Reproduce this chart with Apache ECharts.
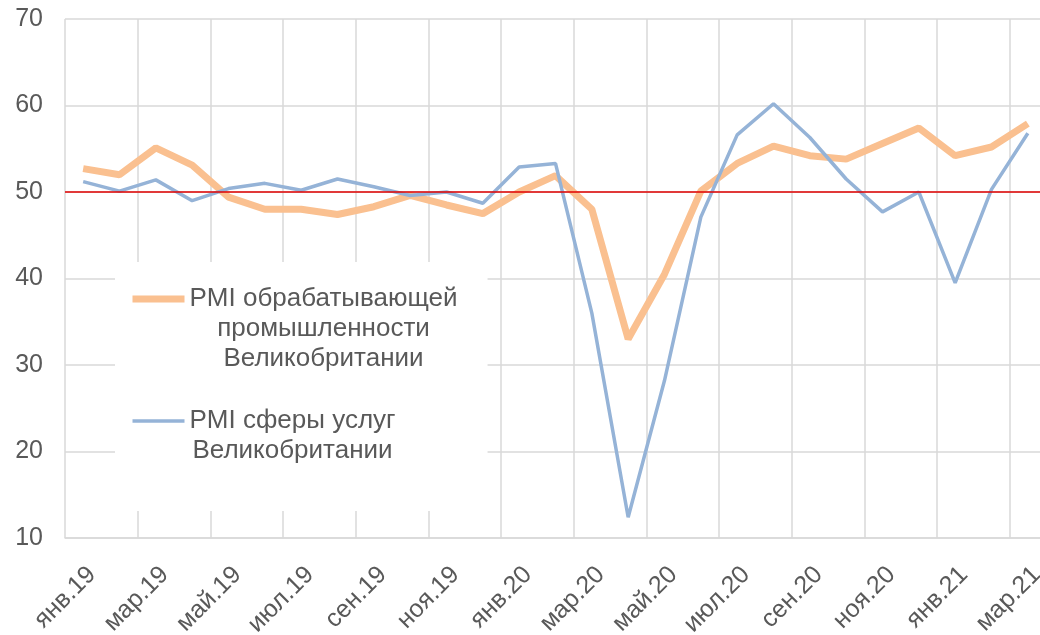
<!DOCTYPE html>
<html>
<head>
<meta charset="utf-8">
<script src="https://cdn.jsdelivr.net/npm/echarts@6/dist/echarts.min.js"></script>
<style>
  html, body { margin: 0; padding: 0; background: #fff; }
  #chart { width: 1040px; height: 635px; }
</style>
</head>
<body>
<div id="chart"></div>
<script>
// месяцы янв.19 - мар.21
const months = ['янв.19', 'фев.19', 'мар.19', 'апр.19', 'май.19', 'июн.19', 'июл.19', 'авг.19', 'сен.19', 'окт.19', 'ноя.19', 'дек.19',
  'янв.20', 'фев.20', 'мар.20', 'апр.20', 'май.20', 'июн.20', 'июл.20', 'авг.20', 'сен.20', 'окт.20', 'ноя.20', 'дек.20',
  'янв.21', 'фев.21', 'мар.21'];

const manufName = 'PMI обрабатывающей\nпромышленности\nВеликобритании';
const servicesName = 'PMI сферы услуг\nВеликобритании';

const manufPMI = [52.7, 52.0, 55.1, 53.1, 49.4, 48.0, 48.0, 47.4, 48.3, 49.6, 48.5, 47.5,
  50.0, 51.9, 48.0, 33.0, 40.5, 50.1, 53.3, 55.3, 54.2, 53.8, 55.6, 57.4, 54.2, 55.2, 57.9];
const servicesPMI = [51.2, 50.1, 51.4, 49.0, 50.4, 51.0, 50.2, 51.5, 50.6, 49.6, 50.0, 48.7,
  52.9, 53.3, 36.0, 12.4, 28.2, 47.1, 56.6, 60.2, 56.3, 51.5, 47.7, 50.0, 39.5, 50.3, 56.8];

const threshold = 50; // граница 50 пунктов
const yMin = 10, yMax = 70, yStep = 10;

const textColor = '#595959';
const font = 'Liberation Sans, Arial, sans-serif';

const chart = echarts.init(document.getElementById('chart'));

chart.setOption({
  animation: false,
  grid: { left: 65, top: 19, width: 981, height: 519, containLabel: false, outerBoundsMode: 'none' },
  legend: {
    orient: 'vertical',
    left: 115,
    top: 262,
    padding: [24, 30, 47, 14],
    backgroundColor: '#fff',
    itemWidth: 52,
    itemHeight: 10,
    itemGap: 36,
    textStyle: {
      fontFamily: font,
      fontSize: 26,
      color: textColor,
      rich: { t: { align: 'center', lineHeight: 30, fontFamily: font, fontSize: 26, color: textColor } }
    },
    formatter: (name) => '{t|' + name + '}',
    data: [
      { name: manufName, lineStyle: { width: 7 }, itemStyle: { opacity: 0 }, textStyle: { padding: [60, 0, 0, 0] } },
      { name: servicesName, lineStyle: { width: 3.5 }, itemStyle: { opacity: 0 }, textStyle: { padding: [30, 0, 0, 0] } }
    ]
  },
  xAxis: {
    type: 'category',
    data: months,
    boundaryGap: true,
    axisLine: { lineStyle: { color: '#d9d9d9', width: 1.5 } },
    axisTick: { show: false },
    axisLabel: {
      interval: 1,
      rotate: 45,
      align: 'right',
      verticalAlign: 'top',
      margin: 24,
      fontFamily: font,
      fontSize: 25,
      color: textColor
    },
    splitLine: { show: true, interval: 1, lineStyle: { color: '#d9d9d9', width: 1.5 } }
  },
  yAxis: {
    type: 'value',
    min: yMin,
    max: yMax,
    interval: yStep,
    axisLine: { show: false },
    axisTick: { show: false },
    axisLabel: { margin: 22, fontFamily: font, fontSize: 25, color: textColor },
    splitLine: { lineStyle: { color: '#d9d9d9', width: 1.5 } }
  },
  series: [
    {
      name: manufName,
      type: 'line',
      data: manufPMI,
      symbol: 'none',
      lineStyle: { color: '#fac090', width: 7 },
      itemStyle: { color: '#fac090' },
      markLine: {
        silent: true,
        symbol: 'none',
        label: { show: false },
        lineStyle: { color: '#e00000', width: 1.5, type: 'solid' },
        data: [{ yAxis: threshold }]
      }
    },
    {
      name: servicesName,
      type: 'line',
      data: servicesPMI,
      symbol: 'none',
      lineStyle: { color: '#95b3d7', width: 3.5 },
      itemStyle: { color: '#95b3d7' }
    }
  ]
});
</script>
</body>
</html>
